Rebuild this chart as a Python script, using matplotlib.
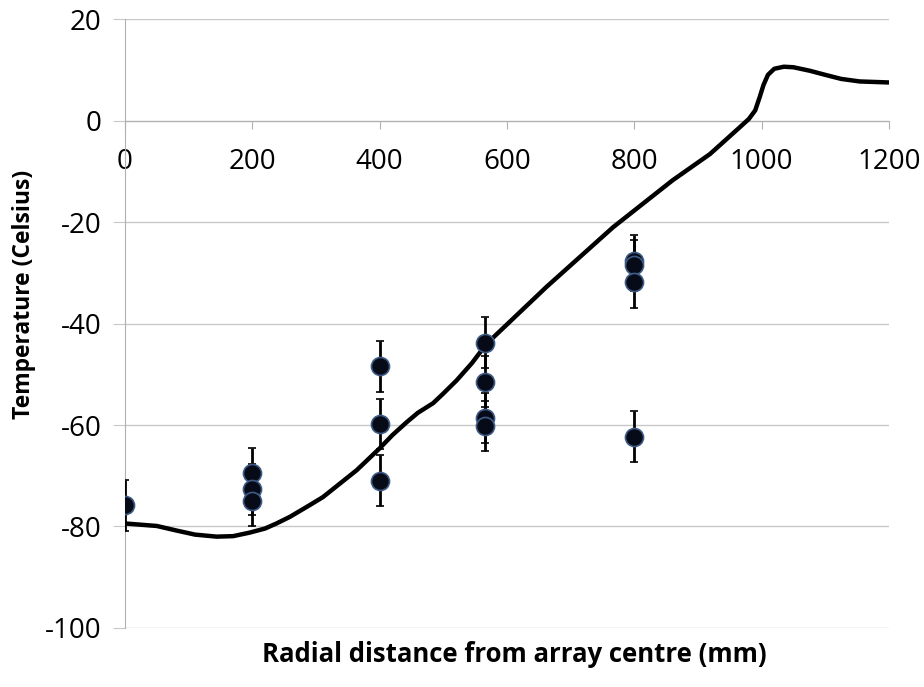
import numpy as np
import matplotlib.pyplot as plt

# measured points (mean temperature per sensor) and error
x_pts = [0, 200, 200, 200, 400, 400, 400, 566, 566, 566, 566, 800, 800, 800, 800]
t_pts = [-75.8, -69.5, -72.7, -75.0, -48.4, -59.8, -71.0,
         -43.8, -51.5, -58.6, -60.2, -27.6, -28.5, -31.9, -62.3]
t_err = [5, 5, 5, 5, 5, 5, 5, 5, 5, 5, 5, 5, 5, 5, 5]

# model curve
x_model = [0, 50, 81, 110, 144, 170, 196, 220, 238, 259, 290, 311, 364, 400, 420, 442,
           460, 484, 500, 521, 545, 568, 662, 767, 860, 919, 966, 980, 990, 997, 1003,
           1010, 1020, 1035, 1050, 1076, 1100, 1125, 1154, 1200]
t_model = [-79.4, -79.9, -80.8, -81.6, -82.0, -81.9, -81.2, -80.4, -79.4, -78.1, -75.8,
           -74.2, -68.9, -64.6, -62.0, -59.5, -57.6, -55.7, -53.8, -51.2, -47.8, -44.0,
           -32.8, -21.0, -11.8, -6.6, -1.3, 0.3, 2.0, 4.6, 7.0, 9.0, 10.2, 10.6, 10.5,
           9.8, 9.0, 8.2, 7.7, 7.5]

xticks = [0, 200, 400, 600, 800, 1000, 1200]
yticks = [-100, -80, -60, -40, -20, 0, 20]

plt.rcParams['font.family'] = ['Open Sans', 'DejaVu Sans']
plt.rcParams['axes.unicode_minus'] = False

fig = plt.figure(figsize=(9.24, 6.87), dpi=100)
ax = fig.add_axes([0.1353, 0.0859, 0.962 - 0.1353, 0.9723 - 0.0859])

ax.plot(x_model, t_model, color='black', lw=3.2, solid_capstyle='round',
        solid_joinstyle='round', zorder=3)
ax.errorbar(x_pts, t_pts, yerr=t_err, fmt='o', color='black', ecolor='black',
            elinewidth=2, capsize=3, capthick=2, ms=13, mfc='#070b18',
            mec='#3d5b86', mew=1.2, zorder=4)

ax.set_xlim(0, 1200)
ax.set_ylim(-100, 20)
ax.set_xticks(xticks)
ax.set_yticks(yticks)
ax.grid(axis='y', color='#c8c8c8', lw=1)
ax.set_axisbelow(True)

for s in ['top', 'right']:
    ax.spines[s].set_visible(False)
ax.spines['bottom'].set_position(('data', 0))
ax.spines['bottom'].set_color('#b0b0b0')
ax.spines['left'].set_color('#b0b0b0')
ax.tick_params(axis='x', direction='out', length=6, color='#b0b0b0', pad=14,
               labelsize=20)
ax.tick_params(axis='y', direction='out', length=9, color='#c8c8c8', pad=8,
               labelsize=20)

fig.text(0.557, 0.0466, 'Radial distance from array centre (mm)', ha='center',
         va='center', fontsize=18.5, fontweight='bold')
fig.text(0.026, 0.572, 'Temperature (Celsius)', ha='center', va='center',
         rotation=90, fontsize=16.5, fontweight='bold')

fig.savefig('out.png', dpi=100)
